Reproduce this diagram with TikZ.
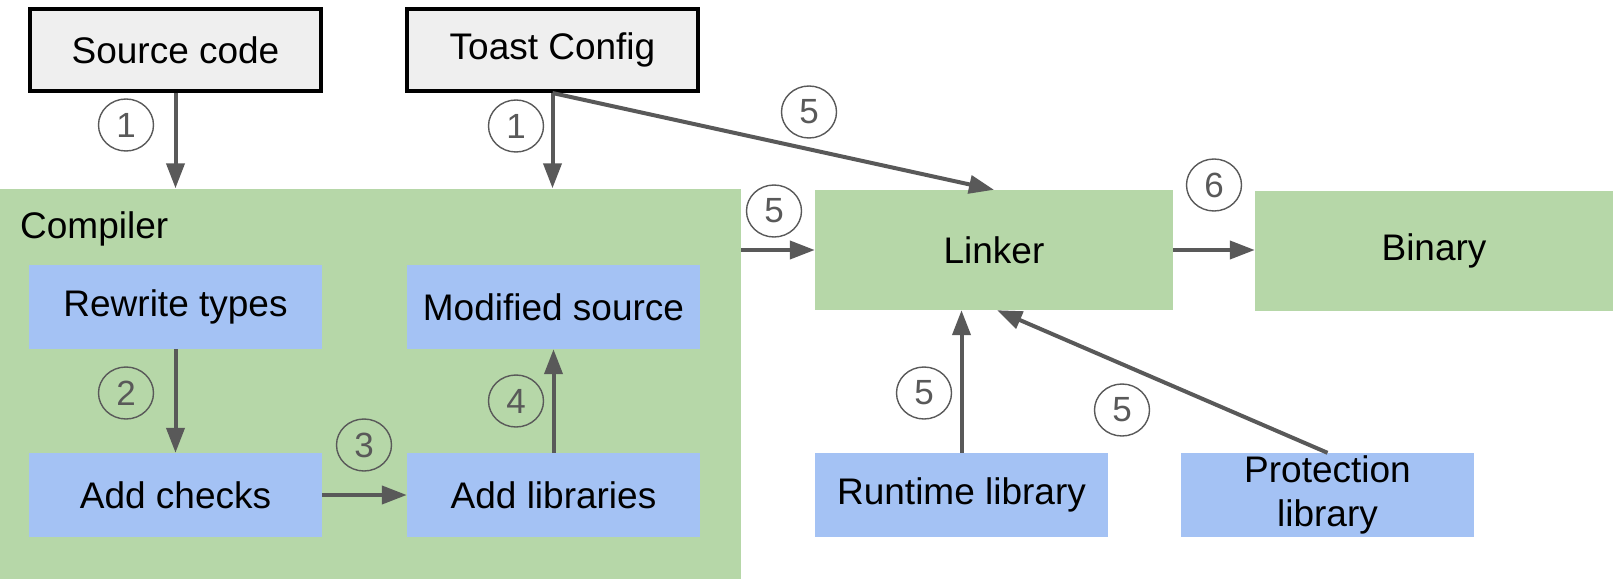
\documentclass[tikz,border=0pt]{standalone}
\usepackage{fontspec}
\setmainfont{Liberation Sans}
\usetikzlibrary{arrows.meta,shapes.geometric}
\definecolor{boxgreen}{HTML}{B6D7A8}
\definecolor{boxblue}{HTML}{A4C2F4}
\definecolor{boxgray}{HTML}{EFEFEF}
\definecolor{linegray}{HTML}{595959}
\tikzset{
  base/.style={rectangle, inner sep=0pt, align=center, font=\fontsize{37}{44}\selectfont},
  inputbox/.style={base, fill=boxgray, draw=black, line width=4pt},
  greenbox/.style={base, fill=boxgreen},
  bluebox/.style={base, fill=boxblue},
  flow/.style={draw=linegray, line width=4pt, -{Triangle[length=25pt,width=18pt]}},
  stepnum/.style={ellipse, draw=linegray, line width=1.4pt, text=linegray,
    minimum width=55pt, minimum height=52pt, inner sep=0pt,
    font=\fontsize{35}{36}\selectfont}
}
\begin{document}
\begin{tikzpicture}[x=1pt,y=-1pt]
\useasboundingbox (0,0) rectangle (1614,583);

% inputs
\node[inputbox, minimum width=291pt, minimum height=82pt] (src) at (175.5,50) {Source code};
\node[inputbox, minimum width=291pt, minimum height=82pt] (toast) at (552.5,50) {Toast Config};

% compiler stage
\node[greenbox, minimum width=741pt, minimum height=390pt] (compiler) at (370.5,383.5) {};
\node[base, anchor=west] (complabel) at (20,229) {Compiler};
\node[bluebox, minimum width=293pt, minimum height=84pt] (rewrite) at (175.5,307) {Rewrite types};
\node[bluebox, minimum width=293pt, minimum height=84pt] (modsrc) at (553.5,307) {Modified source};
\node[bluebox, minimum width=293pt, minimum height=84pt] (checks) at (175.5,495) {Add checks};
\node[bluebox, minimum width=293pt, minimum height=84pt] (addlib) at (553.5,495) {Add libraries};

% linking stage
\node[greenbox, minimum width=358pt, minimum height=120pt] (linker) at (994,250) {Linker};
\node[greenbox, minimum width=358pt, minimum height=120pt] (binary) at (1434,250.5) {Binary};
\node[bluebox, minimum width=293pt, minimum height=84pt] (runtime) at (961.5,495) {Runtime library};
\node[bluebox, minimum width=293pt, minimum height=84pt] (protect) at (1327.5,495) {Protection\\library};

% connectors
\draw[flow] (src.south) -- (src.south |- compiler.north);
\draw[flow] (toast.south) -- (toast.south |- compiler.north);
\draw[flow] (toast.south) -- (linker.north);
\draw[flow] (compiler.east |- linker.west) -- (linker.west);
\draw[flow] (linker.east) -- (linker.east -| binary.west);
\draw[flow] (rewrite) -- (checks);
\draw[flow] (checks) -- (addlib);
\draw[flow] (addlib) -- (modsrc);
\draw[flow] (runtime) -- (runtime |- linker.south);
\draw[flow] (protect.north) -- ([xshift=3pt]linker.south);

% step numbers
\node[stepnum] (n1a) at (126,125) {1};
\node[stepnum] (n1b) at (516,126) {1};
\node[stepnum] (n5a) at (809,112) {5};
\node[stepnum] (n5b) at (774,211) {5};
\node[stepnum] (n6) at (1214,185) {6};
\node[stepnum] (n2) at (126,393) {2};
\node[stepnum] (n3) at (364,445) {3};
\node[stepnum] (n4) at (516,401) {4};
\node[stepnum] (n5c) at (924,393) {5};
\node[stepnum] (n5d) at (1122,410) {5};
\end{tikzpicture}
\end{document}
